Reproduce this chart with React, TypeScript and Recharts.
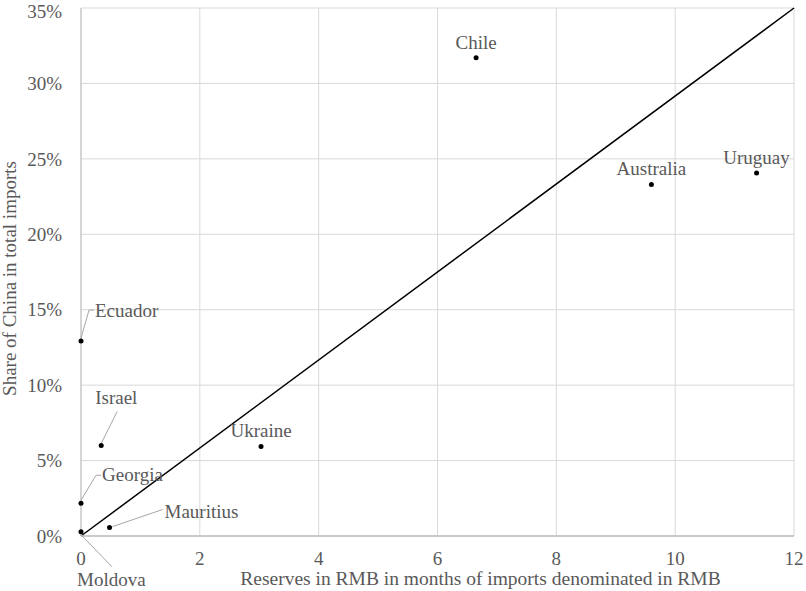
import {
  CartesianGrid,
  Label,
  ReferenceLine,
  Scatter,
  ScatterChart,
  XAxis,
  YAxis,
} from 'recharts'

// months of RMB-denominated imports covered by RMB reserves
const countries = ['Chile', 'Australia', 'Uruguay', 'Ukraine', 'Ecuador', 'Israel', 'Georgia', 'Mauritius', 'Moldova']
const reserveMonths = [6.65, 9.6, 11.37, 3.03, 0, 0.34, 0, 0.48, 0]
// share of China in total imports, %
const chinaShare = [31.7, 23.3, 24.06, 5.93, 12.92, 6.0, 2.17, 0.56, 0.28]

const xTicks = [0, 2, 4, 6, 8, 10, 12]
const yTicks = [0, 5, 10, 15, 20, 25, 30, 35]
const trendLine = [
  { x: 0, y: 0 },
  { x: 12, y: 35 },
]

const FONT = "'Liberation Serif', 'Times New Roman', Times, serif"
const GREY = '#595959'
const txt = { fontFamily: FONT, fontSize: 19, fill: GREY }

// label placement relative to the dot (px); leader = polyline from dot towards text
const labelStyle: Record<string, { dx: number; dy: number; anchor: 'start' | 'middle'; leader?: [number, number][] }> = {
  Chile: { dx: 0, dy: -9, anchor: 'middle' },
  Australia: { dx: 0, dy: -10, anchor: 'middle' },
  Uruguay: { dx: 0, dy: -9, anchor: 'middle' },
  Ukraine: { dx: 0, dy: -10, anchor: 'middle' },
  Ecuador: { dx: 14, dy: -24, anchor: 'start', leader: [[0, -3], [8, -31], [13, -31]] },
  Israel: { dx: -6, dy: -41, anchor: 'start', leader: [[0, -2], [16, -34]] },
  Georgia: { dx: 21, dy: -22, anchor: 'start', leader: [[0, -3], [15, -28], [20, -28]] },
  Mauritius: { dx: 55, dy: -10, anchor: 'start', leader: [[3, -1], [53, -18]] },
  Moldova: { dx: -4, dy: 54, anchor: 'start', leader: [[0, 3], [31, 35]] },
}

const points = countries.map((name, i) => ({ name, x: reserveMonths[i], y: chinaShare[i] }))

function Dot(props: any) {
  const { cx, cy, payload } = props
  const s = labelStyle[payload.name]
  return (
    <g>
      {s.leader && (
        <polyline
          points={s.leader.map(([a, b]) => `${cx + a},${cy + b}`).join(' ')}
          fill="none"
          stroke="#a6a6a6"
          strokeWidth={1}
        />
      )}
      <circle cx={cx} cy={cy} r={2.5} fill="#000" />
      <text x={cx + s.dx} y={cy + s.dy} textAnchor={s.anchor} style={txt}>
        {payload.name}
      </text>
    </g>
  )
}

export default function App() {
  return (
    <div style={{ position: 'absolute', left: 0, top: 0, background: '#fff', fontFamily: FONT }}>
      <ScatterChart width={806} height={591} margin={{ top: 8, right: 12, bottom: 0, left: 0 }}>
        <CartesianGrid stroke="#d9d9d9" />
        <XAxis
          type="number"
          dataKey="x"
          domain={[0, 12]}
          ticks={xTicks}
          height={55}
          tickLine={false}
          tickSize={0}
          tickMargin={16}
          axisLine={{ stroke: '#bfbfbf', strokeWidth: 1.5 }}
          tick={txt}
        >
          <Label
            content={({ viewBox }: any) => (
              <text
                x={viewBox.x + viewBox.width / 2 + 43}
                y={viewBox.y + 48.5}
                textAnchor="middle"
                style={{ ...txt, fontSize: 19.5 }}
              >
                Reserves in RMB in months of imports denominated in RMB
              </text>
            )}
          />
        </XAxis>
        <YAxis
          type="number"
          dataKey="y"
          domain={[0, 35]}
          ticks={yTicks}
          width={81}
          tickLine={false}
          tickSize={0}
          tickMargin={19}
          tickFormatter={(v: number) => `${v}%`}
          axisLine={{ stroke: '#bfbfbf' }}
          tick={txt}
        >
          <Label
            content={({ viewBox }: any) => {
              const cx = 16
              const cy = viewBox.y + viewBox.height / 2 + 6.5
              return (
                <text x={cx} y={cy} transform={`rotate(-90, ${cx}, ${cy})`} textAnchor="middle" style={txt}>
                  Share of China in total imports
                </text>
              )
            }}
          />
        </YAxis>
        <ReferenceLine segment={trendLine} stroke="#000" strokeWidth={1.5} ifOverflow="visible" />
        <Scatter data={points} shape={<Dot />} isAnimationActive={false} />
      </ScatterChart>
    </div>
  )
}
